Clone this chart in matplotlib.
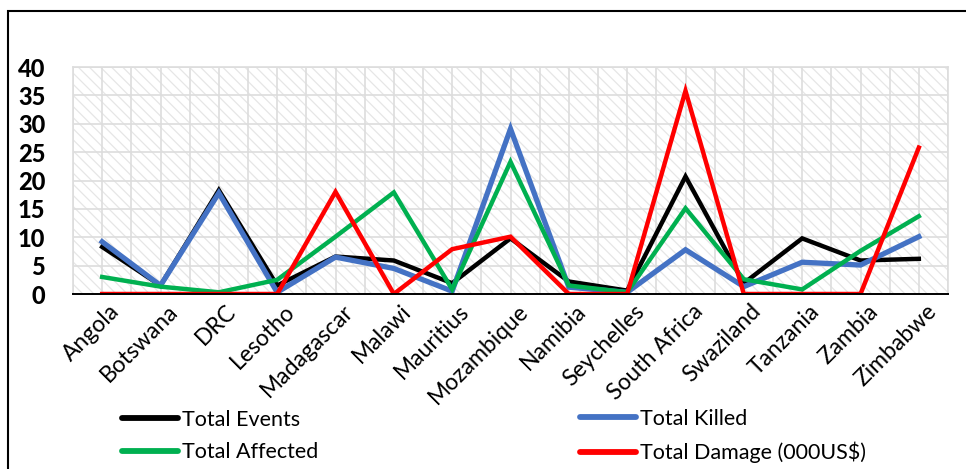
import numpy as np
import matplotlib
matplotlib.use("Agg")
import matplotlib.pyplot as plt
from matplotlib.patches import Rectangle
from matplotlib.lines import Line2D
from matplotlib.transforms import ScaledTranslation

countries = ["Angola", "Botswana", "DRC", "Lesotho", "Madagascar", "Malawi", "Mauritius",
             "Mozambique", "Namibia", "Seychelles", "South Africa", "Swaziland", "Tanzania",
             "Zambia", "Zimbabwe"]
total_events = [8.3, 1.5, 18.3, 1.5, 6.6, 5.9, 1.9, 9.8, 2.2, 0.6, 20.7, 1.9, 9.8, 5.9, 6.2]
total_killed = [9.2, 1.5, 17.8, 0.3, 6.5, 4.5, 0.5, 29.1, 1.2, 0.3, 7.8, 1.3, 5.6, 5.1, 10.1]
total_affected = [3.0, 1.3, 0.3, 2.5, 10.1, 17.9, 0.8, 23.3, 1.5, 0.3, 15.1, 2.6, 0.8, 7.6, 13.7]
total_damage = [0, 0, 0, 0, 18.0, 0, 7.9, 10.1, 0, 0, 35.8, 0, 0, 0, 25.8]
yticks = [0, 5, 10, 15, 20, 25, 30, 35, 40]

plt.rcParams["font.family"] = ["Lato", "DejaVu Sans"]
plt.rcParams["hatch.linewidth"] = 0.9

W, H = 966, 469
fig = plt.figure(figsize=(W / 100, H / 100), dpi=100)
ax = fig.add_axes([73 / W, 1 - 294 / H, (948 - 73) / W, (294 - 67) / H])

x = np.arange(len(countries))
ax.set_xlim(-0.5, len(countries) - 0.5)
ax.set_ylim(0, 40)

# hatched plot-area background
ax.add_patch(Rectangle((0, 0), 1, 1, transform=ax.transAxes, facecolor="white",
                       edgecolor="#E6E6E6", hatch="\\\\\\", lw=0, zorder=0))
for gx in np.arange(-0.5, len(countries), 0.5):
    ax.axvline(gx, color="#DDDDDD", lw=1.2, zorder=1)
for gy in yticks[1:]:
    ax.axhline(gy, color="#DDDDDD", lw=1.2, zorder=1)

series = [
    ("Total Events", total_events, "#000000", 3.2),
    ("Total Killed", total_killed, "#4472C4", 3.8),
    ("Total Affected", total_affected, "#00B050", 3.2),
    ("Total Damage (000US$)", total_damage, "#FF0000", 3.2),
]
handles = {}
for name, vals, col, lw in series:
    ax.plot(x, vals, color=col, lw=lw, zorder=3, solid_joinstyle="miter")
    handles[name] = Line2D([], [], color=col, lw=4.2, solid_capstyle="round")

for s in ["top", "right", "left"]:
    ax.spines[s].set_color("#DDDDDD")
    ax.spines[s].set_linewidth(1.2)
ax.spines["bottom"].set_color("#000000")
ax.spines["bottom"].set_linewidth(1.4)
ax.spines["bottom"].set_zorder(4)

ax.set_yticks(yticks)
ax.set_yticklabels([str(v) for v in yticks], fontsize=17, fontweight="black")
ax.tick_params(axis="y", length=0, pad=20)
ax.set_xticks(x)
ax.set_xticklabels(countries, fontsize=16.5, rotation=45, ha="right",
                   rotation_mode="anchor", va="center")
ax.tick_params(axis="x", length=0, pad=10)
offset = ScaledTranslation(14 / 100, 0, fig.dpi_scale_trans)
for lab in ax.get_xticklabels():
    lab.set_transform(lab.get_transform() + offset)

# outer frame (left and top edges visible)
fig.add_artist(Rectangle((8 / W, -0.5), 2, 1.5 - 11 / H, transform=fig.transFigure,
                         fill=False, edgecolor="black", lw=1.5, clip_on=False))

leg_kw = dict(frameon=False, fontsize=15.5, handlelength=2.6, handletextpad=0.2,
              labelspacing=0.6, borderpad=0, borderaxespad=0, loc="center left")
fig.legend([handles["Total Events"], handles["Total Affected"]],
           ["Total Events", "Total Affected"],
           bbox_to_anchor=(122 / W, 1 - 436 / H), **leg_kw)
fig.legend([handles["Total Killed"], handles["Total Damage (000US$)"]],
           ["Total Killed", "Total Damage (000US$)"],
           bbox_to_anchor=(580 / W, 1 - 436 / H), **leg_kw)

fig.savefig("out.png", dpi=100)
